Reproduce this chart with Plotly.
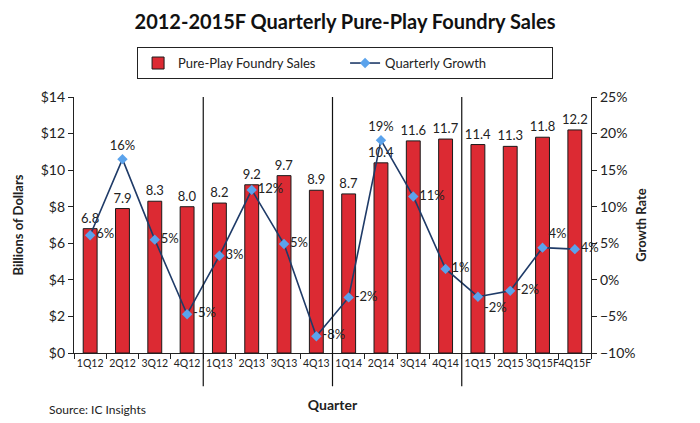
import plotly.graph_objects as go

quarters = ["1Q12", "2Q12", "3Q12", "4Q12", "1Q13", "2Q13", "3Q13", "4Q13",
            "1Q14", "2Q14", "3Q14", "4Q14", "1Q15", "2Q15", "3Q15F", "4Q15F"]
sales = [6.8, 7.9, 8.3, 8.0, 8.2, 9.2, 9.7, 8.9, 8.7, 10.4, 11.6, 11.7, 11.4, 11.3, 11.8, 12.2]
growth = [6.1, 16.5, 5.5, -4.7, 3.3, 12.3, 4.9, -7.7, -2.4, 19.1, 11.4, 1.5, -2.3, -1.5, 4.4, 4.2]
growth_labels = ["6%", "16%", "5%", "-5%", "3%", "12%", "5%", "-8%",
                 "-2%", "19%", "11%", "1%", "-2%", "-2%", "4%", "4%"]
growth_pos = ["middle right", "top center", "middle right", "middle right", "middle right",
              "middle right", "middle right", "middle right", "middle right", "top center",
              "middle right", "middle right", "bottom right", "middle right", "top right",
              "middle right"]
separators = [3.5, 7.5, 11.5]

FONT = "Lato"
fig = go.Figure()
fig.add_trace(go.Bar(
    x=quarters, y=sales, name="Pure-Play Foundry Sales",
    marker=dict(color="#dc2a33", line=dict(color="#1a1a1a", width=1)),
    width=0.43,
    text=[f"{v:.1f}" for v in sales], textposition="outside", constraintext="none",
    textfont=dict(size=13, color="#222"), cliponaxis=False,
))
fig.add_trace(go.Scatter(
    x=quarters, y=growth, name="Quarterly Growth", yaxis="y2",
    mode="lines+markers+text",
    line=dict(color="#1f3b68", width=1.6),
    marker=dict(symbol="diamond", size=8, color="#5ba3ec"),
    text=growth_labels, textposition=growth_pos,
    textfont=dict(size=13, color="#222"), cliponaxis=False,
))

for s in separators:
    fig.add_shape(type="line", xref="x", yref="paper", x0=s, x1=s, y0=-0.13, y1=1.0,
                  line=dict(color="#111", width=1.2))

fig.update_layout(
    width=700, height=423,
    margin=dict(l=74, r=109, t=97, b=70, autoexpand=False),
    paper_bgcolor="white", plot_bgcolor="white",
    font=dict(family=FONT, size=12, color="#222"),
    title=dict(text="<b>2012-2015F Quarterly Pure-Play Foundry Sales</b>",
               x=345 / 700, xanchor="center", y=1 - 22 / 423, yanchor="middle",
               font=dict(family=FONT, size=20, color="#111")),
    showlegend=True,
    legend=dict(orientation="h", x=0.122, y=1.195, xanchor="left", yanchor="top",
                bordercolor="#222", borderwidth=1, font=dict(size=13),
                entrywidth=162, entrywidthmode="pixels", itemwidth=30),
    xaxis=dict(type="category", range=[-0.5, 15.5], showline=True, linecolor="#222",
               linewidth=1.2, ticks="outside", tickson="boundaries", ticklen=5,
               tickcolor="#222", showgrid=False, tickfont=dict(size=10.5), tickangle=0,
               automargin=False,
               title=dict(text="<b>Quarter</b>", font=dict(size=14), standoff=32)),
    yaxis=dict(range=[0, 14], dtick=2, tickprefix="$", showline=True, linecolor="#222",
               linewidth=1.2, ticks="outside", ticklen=5, tickcolor="#222",
               showgrid=False, zeroline=False, tickfont=dict(size=14), automargin=False,
               title=dict(text="<b>Billions of Dollars</b>", font=dict(size=13), standoff=14)),
    yaxis2=dict(range=[-10, 25], dtick=5, ticksuffix="%", overlaying="y", side="right",
                showline=True, linecolor="#222", linewidth=1.2, ticks="outside",
                ticklen=5, tickcolor="#222", showgrid=False, zeroline=False,
                tickfont=dict(size=14), automargin=False,
                title=dict(text="<b>Growth Rate</b>", font=dict(size=13), standoff=2)),
    annotations=[dict(text="Source: IC Insights", xref="paper", yref="paper",
                      x=-27 / 517, y=-56 / 256, xanchor="left", yanchor="middle",
                      showarrow=False, font=dict(size=12, color="#222"))],
)

fig.write_html("out.html", config={"displayModeBar": False},
               post_script="document.body.style.margin='0';document.body.style.overflow='hidden';")
